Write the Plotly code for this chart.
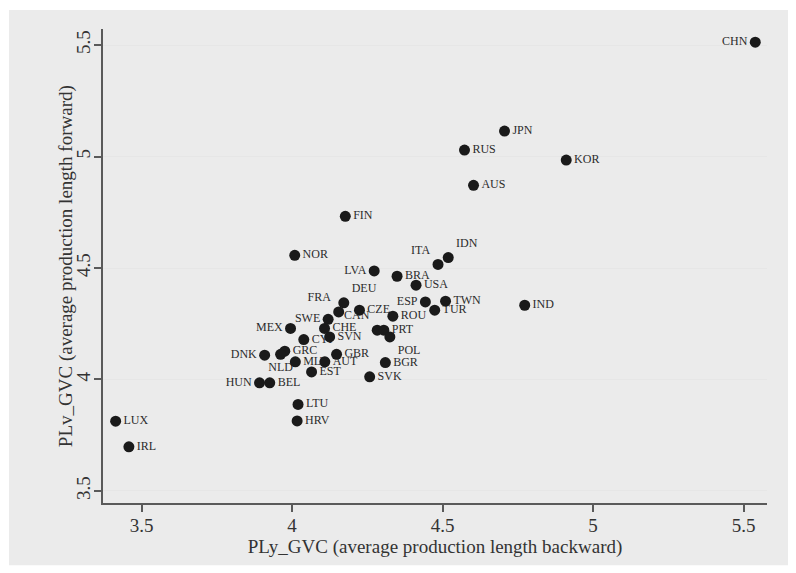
import plotly.graph_objects as go

# ---- data ----
countries = ["CHN", "JPN", "RUS", "KOR", "AUS", "FIN", "NOR", "IDN", "ITA", "LVA",
             "BRA", "USA", "ESP", "TWN", "TUR", "IND", "ROU", "CZE", "DEU", "FRA",
             "SWE", "CAN", "PRT", "POL", "CHE", "SVN", "CYP", "MEX", "DNK", "GRC",
             "NLD", "MLT", "AUT", "GBR", "EST", "BGR", "SVK", "HUN", "BEL", "LTU",
             "HRV", "LUX", "IRL"]
ply_backward = [5.539, 4.706, 4.573, 4.911, 4.603, 4.177, 4.009, 4.519, 4.485, 4.273,
                4.349, 4.412, 4.443, 4.510, 4.474, 4.773, 4.335, 4.224, 4.172, 4.155,
                4.120, 4.283, 4.305, 4.325, 4.108, 4.125, 4.039, 3.995, 3.909, 3.976,
                3.962, 4.011, 4.109, 4.148, 4.065, 4.310, 4.258, 3.892, 3.926, 4.020,
                4.017, 3.414, 3.458]
plv_forward = [5.513, 5.114, 5.029, 4.984, 4.871, 4.732, 4.557, 4.547, 4.516, 4.487,
               4.463, 4.423, 4.348, 4.351, 4.311, 4.333, 4.284, 4.311, 4.344, 4.303,
               4.270, 4.221, 4.221, 4.191, 4.229, 4.191, 4.179, 4.229, 4.109, 4.127,
               4.113, 4.079, 4.079, 4.113, 4.034, 4.076, 4.012, 3.985, 3.985, 3.888,
               3.814, 3.813, 3.698]
x_ticks = [3.5, 4, 4.5, 5, 5.5]
y_ticks = [3.5, 4, 4.5, 5, 5.5]
x_title = "PLy_GVC (average production length backward)"
y_title = "PLv_GVC (average production length forward)"

# label placement (style), default is to the right of the marker
label_side = {
    "CHN": "middle left", "IDN": "top right", "ITA": "top left", "LVA": "middle left",
    "ESP": "middle left", "DEU": "top right", "FRA": "top left", "SWE": "middle left",
    "CAN": "top left", "POL": "bottom right", "MEX": "middle left", "DNK": "middle left",
    "NLD": "bottom center", "HUN": "middle left",
}
positions = [label_side.get(c, "middle right") for c in countries]

SERIF = "Liberation Serif, Times New Roman, serif"
MARKER_SIZE = 11
TEXT_COLOR = "#333333"

fig = go.Figure()
# labels (drawn first so markers sit on top of them)
fig.add_trace(go.Scatter(
    x=ply_backward, y=plv_forward, mode="markers+text", text=countries,
    textposition=positions,
    textfont=dict(family=SERIF, size=12, color="#2b2b2b"),
    marker=dict(size=MARKER_SIZE, color="rgba(0,0,0,0)"),
    hoverinfo="skip", showlegend=False,
))
fig.add_trace(go.Scatter(
    x=ply_backward, y=plv_forward, mode="markers", text=countries,
    marker=dict(size=MARKER_SIZE, color="#1a1a1a", line=dict(width=0)),
    showlegend=False,
))

axis_common = dict(
    showline=True, linecolor="#5a5a5a", linewidth=1.5,
    ticks="outside", ticklen=7, tickwidth=1.5, tickcolor="#5a5a5a",
    tickfont=dict(family=SERIF, size=19, color=TEXT_COLOR),
    zeroline=False,
)
fig.update_xaxes(
    range=[3.372, 5.578], tickvals=x_ticks, ticktext=[str(v) for v in x_ticks],
    showgrid=False, ticklabelstandoff=-3,
    title=dict(text=x_title, font=dict(family=SERIF, size=19, color=TEXT_COLOR), standoff=2),
    **axis_common,
)
fig.update_yaxes(
    range=[3.446, 5.572], tickvals=y_ticks, ticktext=[str(v) for v in y_ticks],
    tickangle=-90, showgrid=True, gridcolor="#e6e6e6", gridwidth=1.3,
    ticklabelstandoff=-3,
    **axis_common,
)

# the page body adds an 8px offset; size the figure so it fits the window
W, H = 788, 565
L, T = 95, 21
R = W - (766.7 - 8)
B = H - (502.7 - 8)
pw, ph = W - L - R, H - T - B

def px_to_paper_x(px):  # px in page pixels
    return (px - 8 - L) / pw

def px_to_paper_y(py):
    return (H - B - (py - 8)) / ph

fig.add_annotation(
    text=y_title, textangle=-90, showarrow=False,
    xref="paper", yref="paper", x=px_to_paper_x(66), y=px_to_paper_y(266),
    xanchor="center", yanchor="middle",
    font=dict(family=SERIF, size=19, color=TEXT_COLOR),
)

fig.update_layout(
    width=W, height=H,
    margin=dict(l=L, r=R, t=T, b=B, pad=0, autoexpand=False),
    paper_bgcolor="white", plot_bgcolor="white",
    shapes=[dict(type="rect", xref="paper", yref="paper",
                 x0=px_to_paper_x(9), x1=px_to_paper_x(800),
                 y0=px_to_paper_y(565), y1=px_to_paper_y(10),
                 fillcolor="#ebebeb", line=dict(width=0), layer="below")],
)

fig.write_html("out.html")
